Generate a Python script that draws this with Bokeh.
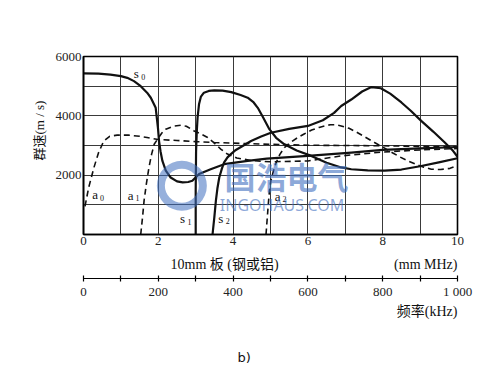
from bokeh.plotting import figure
from bokeh.models import Range1d, LinearAxis, FixedTicker, Label, Title
from bokeh.embed import file_html
from bokeh.resources import INLINE

# ---- data ----
s0_x = [0, 0.4, 0.72, 1.0, 1.17, 1.35, 1.53, 1.7, 1.8, 1.93, 1.99, 2.02, 2.06, 2.11, 2.2, 2.33, 2.5, 2.65, 2.8, 2.91, 3.09, 3.4, 3.76, 4.39, 4.9, 6.0, 7.16, 8.0, 9.0, 10.0]
s0_y = [5430, 5420, 5390, 5340, 5280, 5170, 5000, 4780, 4610, 4270, 3600, 3150, 2800, 2480, 2150, 1920, 1790, 1755, 1770, 1810, 2040, 2200, 2370, 2480, 2560, 2650, 2760, 2850, 2900, 2950]

s1_x = [3.0, 3.0, 3.01, 3.03, 3.05, 3.09, 3.14, 3.22, 3.35, 3.5, 3.72, 3.95, 4.2, 4.39, 4.55, 4.66, 4.8, 4.97, 5.15, 5.37, 5.7, 6.09, 6.5, 6.89, 7.16, 7.6, 8.05, 8.5, 9.0, 9.5, 10.0]
s1_y = [0, 1500, 2800, 3500, 3940, 4400, 4650, 4780, 4840, 4860, 4850, 4800, 4700, 4610, 4450, 4270, 3950, 3550, 3260, 3040, 2830, 2650, 2420, 2260, 2200, 2160, 2150, 2190, 2300, 2430, 2570]

s2_x = [3.45, 3.5, 3.54, 3.58, 3.63, 3.7, 3.76, 3.85, 3.94, 4.05, 4.21, 4.48, 4.75, 5.01, 5.5, 6.0, 6.4, 6.7, 6.89, 7.16, 7.45, 7.7, 7.95, 8.2, 8.5, 8.75, 9.03, 9.35, 9.66, 9.88, 10.0]
s2_y = [0, 600, 1140, 1550, 1920, 2220, 2430, 2600, 2710, 2830, 2950, 3150, 3300, 3430, 3560, 3660, 3850, 4100, 4330, 4550, 4820, 4970, 4930, 4750, 4450, 4170, 3830, 3470, 3100, 2820, 2620]

a0_x = [0.04, 0.14, 0.28, 0.4, 0.54, 0.7, 0.9, 1.2, 1.5, 1.7, 2.0, 2.5, 3.0, 3.5, 4.0, 5.0, 6.0, 7.0, 8.0, 9.0, 10.0]
a0_y = [950, 1590, 2260, 2750, 3150, 3310, 3350, 3350, 3310, 3270, 3200, 3170, 3130, 3100, 3080, 3040, 3010, 3000, 2990, 2970, 2960]

a1_x = [1.53, 1.58, 1.62, 1.68, 1.75, 1.82, 1.89, 2.0, 2.1, 2.2, 2.4, 2.6, 2.75, 2.96, 3.15, 3.32, 3.5, 3.67, 3.85, 4.1, 4.5, 5.0, 6.0, 6.9, 8.0, 9.0, 10.0]
a1_y = [0, 600, 1140, 1700, 2260, 2700, 3040, 3250, 3430, 3550, 3650, 3680, 3650, 3490, 3380, 3270, 3080, 2880, 2710, 2580, 2490, 2450, 2480, 2650, 2780, 2850, 2900]

a2_x = [4.88, 4.91, 4.94, 4.97, 5.01, 5.08, 5.15, 5.25, 5.37, 5.55, 5.73, 5.9, 6.1, 6.3, 6.44, 6.6, 6.75, 6.89, 7.1, 7.3, 7.55, 7.78, 8.0, 8.2, 8.45, 8.68, 8.9, 9.1, 9.3, 9.55, 9.8, 10.0]
a2_y = [0, 500, 1000, 1450, 1810, 2150, 2420, 2700, 2930, 3120, 3270, 3390, 3520, 3610, 3660, 3700, 3700, 3660, 3580, 3450, 3270, 3100, 2950, 2800, 2620, 2480, 2360, 2270, 2200, 2190, 2230, 2320]

x_ticks = [0, 1, 2, 3, 4, 5, 6, 7, 8, 9, 10]
y_ticks = [0, 1000, 2000, 3000, 4000, 5000, 6000]
f_ticks = [0, 200, 400, 600, 800, 1000]
f_minor = [100, 300, 500, 700, 900]

# mode labels: (letter, subscript, x, y)
mode_labels = [("s", "0", 1.41, 5420), ("a", "0", 0.31, 1340), ("a", "1", 1.26, 1325),
               ("s", "1", 2.65, 527), ("s", "2", 3.67, 554), ("a", "2", 5.19, 1282)]

SERIF = "Liberation Serif"
MIXED = "'Liberation Serif', 'Noto Sans CJK SC'"
CJK = "Noto Sans CJK SC"
NB = "\u00a0"

p = figure(width=490, height=365, output_backend="svg", toolbar_location=None,
           x_range=Range1d(0, 10), y_range=Range1d(0, 6000),
           min_border_left=83, min_border_right=33, min_border_top=56, min_border_bottom=131)
p.background_fill_color = "white"
p.border_fill_color = "white"
p.outline_line_color = "black"
p.outline_line_width = 1.6

# grid
p.xgrid.ticker = FixedTicker(ticks=x_ticks)
p.ygrid.ticker = FixedTicker(ticks=y_ticks)
p.xgrid.grid_line_color = "#3a3a3a"
p.ygrid.grid_line_color = "#3a3a3a"
p.xgrid.grid_line_width = 1
p.ygrid.grid_line_width = 1

# main x axis
xa = p.xaxis[0]
xa.ticker = FixedTicker(ticks=x_ticks)
xa.major_label_overrides = {t: ("" if t % 2 else str(t)) for t in x_ticks}
xa.major_tick_out = 0
xa.major_tick_in = 0
xa.minor_tick_out = 0
xa.minor_tick_in = 0
xa.axis_line_color = "black"
xa.axis_line_width = 1.6
xa.major_label_text_font = SERIF
xa.major_label_text_font_size = "13px"
xa.major_label_text_color = "#222222"
xa.major_label_standoff = 2

# y axis
ya = p.yaxis[0]
ya.ticker = FixedTicker(ticks=y_ticks)
ya.major_label_overrides = {t: (str(t) if t in (2000, 4000, 6000) else "") for t in y_ticks}
ya.major_tick_out = 0
ya.major_tick_in = 0
ya.minor_tick_out = 0
ya.minor_tick_in = 0
ya.axis_line_color = "black"
ya.axis_line_width = 1.6
ya.major_label_text_font = SERIF
ya.major_label_text_font_size = "13px"
ya.major_label_text_color = "#222222"
ya.major_label_standoff = 2

# y axis label as a title on the left
p.add_layout(Title(text="群速(m / s)", align="left", offset=74, standoff=11,
                   text_font=MIXED, text_font_size="13px", text_font_style="normal",
                   text_color="#111111"), "left")

# x axis caption line (between the two x axes)
p.add_layout(Title(text="10mm 板 (钢或铝)" + NB * 33 + "(mm MHz)", align="left", offset=87,
                   standoff=14, text_font=MIXED, text_font_size="14px",
                   text_font_style="normal", text_color="#111111"), "below")

# secondary frequency axis
p.extra_x_ranges = {"freq": Range1d(0, 1000)}
fa = LinearAxis(x_range_name="freq",
                ticker=FixedTicker(ticks=f_ticks, minor_ticks=f_minor),
                major_label_overrides={1000: "1 000"})
fa.major_tick_in = 3
fa.major_tick_out = 3
fa.minor_tick_in = 3
fa.minor_tick_out = 3
fa.axis_line_color = "black"
fa.axis_line_width = 1.2
fa.major_tick_line_width = 1.2
fa.minor_tick_line_width = 1.2
fa.major_label_text_font = SERIF
fa.major_label_text_font_size = "13px"
fa.major_label_text_color = "#222222"
fa.major_label_standoff = 2
p.add_layout(fa, "below")

p.add_layout(Title(text="频率(kHz)", align="right", offset=0, standoff=0,
                   text_font=MIXED, text_font_size="14px", text_font_style="normal",
                   text_color="#111111"), "below")
# blank spacer title, then the panel caption "b)"
p.add_layout(Title(text=NB, align="left", offset=0, standoff=18,
                   text_font=SERIF, text_font_size="8px", text_font_style="normal",
                   text_color="#ffffff"), "below")
p.add_layout(Title(text="b)", align="left", offset=154, standoff=0,
                   text_font="DejaVu Sans", text_font_size="13px", text_font_style="normal",
                   text_color="#111111"), "below")

# curves
for xs, ys in [(s0_x, s0_y), (s1_x, s1_y), (s2_x, s2_y)]:
    p.line(xs, ys, line_color="#111111", line_width=2.2, line_join="round")
for xs, ys in [(a0_x, a0_y), (a1_x, a1_y), (a2_x, a2_y)]:
    p.line(xs, ys, line_color="#111111", line_width=1.6, line_dash="6 4")

# mode labels
for letter, sub, lx, ly in mode_labels:
    p.add_layout(Label(x=lx, y=ly, text=letter, text_font=SERIF, text_font_size="13px",
                       text_align="center", text_baseline="middle", text_color="#111111"))
    p.add_layout(Label(x=lx, y=ly, x_offset=7, y_offset=-3, text=sub, text_font=SERIF,
                       text_font_size="8px", text_align="center", text_baseline="middle",
                       text_color="#111111"))

# watermark
p.annulus(x=[2.63], y=[1644], inner_radius=17, outer_radius=25,
          inner_radius_units="screen", outer_radius_units="screen",
          fill_color="#3f6fc0", fill_alpha=0.55, line_color=None)
p.add_layout(Label(x=5.43, y=2000, text="国浩电气", text_font=CJK, text_font_style="bold",
                   text_font_size="31px", text_align="center", text_baseline="middle",
                   text_color="#3f6fc0", text_alpha=0.6))
p.add_layout(Label(x=5.31, y=1010, text="INGOHAUS.COM", text_font="Noto Sans",
                   text_font_size="16px", text_align="center", text_baseline="middle",
                   text_color="#3f6fc0", text_alpha=0.6))

open("out.html", "w").write(file_html(p, INLINE))
